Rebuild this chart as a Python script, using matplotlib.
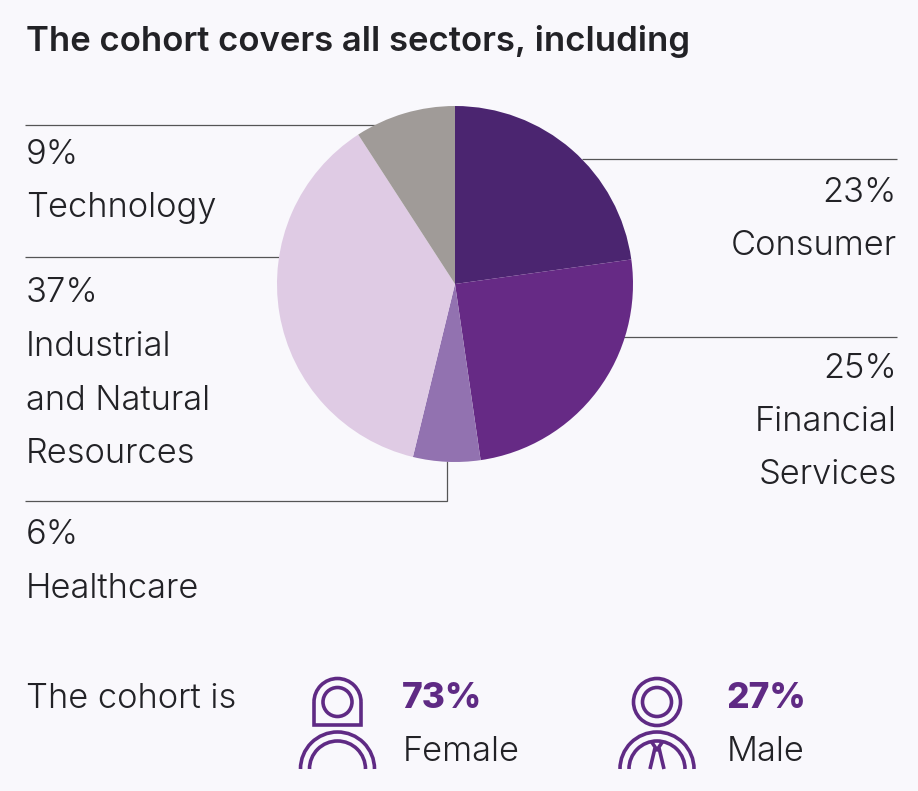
#!/usr/bin/env python3
import matplotlib
matplotlib.use("Agg")
import matplotlib.pyplot as plt
from matplotlib.patches import Arc, Circle

W, H = 918, 791
BG = "#f9f8fc"
PURPLE = "#5f2a84"
INK = "#222226"
RULE = "#555555"

# clockwise from 12 o'clock
sectors = ["Consumer", "Financial\nServices", "Healthcare", "Industrial\nand Natural\nResources", "Technology"]
shares = [23, 25, 6, 37, 9]
# slice sizes, the printed labels are rounded
slices = [22.8, 24.9, 6.1, 37.05, 9.15]
colors = ["#4b2570", "#662a85", "#9272b0", "#dfcbe4", "#a09b98"]
cohort_labels = ["Female", "Male"]
cohort_shares = [73, 27]

plt.rcParams["font.family"] = ["Inter", "Liberation Sans", "DejaVu Sans"]

fig = plt.figure(figsize=(W / 100, H / 100), dpi=100, facecolor=BG)

# overlay in pixel coords, y pointing down
ax = fig.add_axes([0, 0, 1, 1])
ax.set_xlim(0, W)
ax.set_ylim(H, 0)
ax.axis("off")

# pie gets its own axes
cx, cy, r = 455, 284, 178
pie_ax = fig.add_axes([(cx - r) / W, (H - cy - r) / H, 2 * r / W, 2 * r / H])
pie_ax.pie(slices, colors=colors, startangle=90, counterclock=False, radius=1,
           wedgeprops={"linewidth": 0})
pie_ax.set_xlim(-1, 1)
pie_ax.set_ylim(-1, 1)
pie_ax.set_aspect("auto")

ax.text(26, 41, "The cohort covers all sectors, including", fontsize=25, weight=600,
        color=INK, va="center", ha="left")

# leader lines
for xs, ys in [([25, 375], [125, 125]),
               ([25, 279], [257, 257]),
               ([25, 447, 447], [501, 501, 461]),
               ([582, 897], [159, 159]),
               ([622, 897], [337, 337])]:
    ax.plot(xs, ys, color=RULE, lw=0.9, solid_capstyle="butt", solid_joinstyle="miter")

FS = 24.8


def label(x, y, i, ha):
    lines = [f"{shares[i]}%"] + sectors[i].split("\n")
    for n, line in enumerate(lines):
        ax.text(x, y + n * 53.5, line, fontsize=FS, weight=300, color=INK, ha=ha, va="center")


label(26, 154.5, 4, "left")
label(26, 293.5, 3, "left")
label(26, 535.5, 2, "left")
label(897, 192.5, 0, "right")
label(897, 368.5, 1, "right")

ax.text(26, 698.5, "The cohort is", fontsize=FS, weight=300, color=INK, va="center")

# icons
ICON_LW = 2.6


def shoulders(x):
    for rad in (37, 28):
        ax.add_patch(Arc((x, 769), 2 * rad, 2 * rad, theta1=180, theta2=360,
                         color=PURPLE, lw=ICON_LW))


# female
fx = 337.5
ax.add_patch(Circle((fx, 702), 14.5, fill=False, ec=PURPLE, lw=ICON_LW))
ax.add_patch(Arc((fx, 702), 47, 47, theta1=180, theta2=360, color=PURPLE, lw=ICON_LW))
ax.plot([fx - 23.5, fx - 23.5, fx + 23.5, fx + 23.5], [702, 725, 725, 702], color=PURPLE,
        lw=ICON_LW, solid_joinstyle="miter", solid_capstyle="butt")
shoulders(fx)

# male
mx = 657
ax.add_patch(Circle((mx, 702), 14.5, fill=False, ec=PURPLE, lw=ICON_LW))
ax.add_patch(Circle((mx, 702), 23.5, fill=False, ec=PURPLE, lw=ICON_LW))
shoulders(mx)
ax.plot([mx - 6, mx, mx + 6], [741, 750, 741], color=PURPLE, lw=ICON_LW, solid_capstyle="butt")
ax.plot([mx - 2, mx - 7], [748, 769], color=PURPLE, lw=ICON_LW, solid_capstyle="butt")
ax.plot([mx + 2, mx + 7], [748, 769], color=PURPLE, lw=ICON_LW, solid_capstyle="butt")

for x, name, val in zip([402, 726], cohort_labels, cohort_shares):
    ax.text(x, 698, f"{val}%", fontsize=25.5, weight=800, color=PURPLE, va="center")
    ax.text(x + 1, 752, name, fontsize=FS, weight=300, color=INK, va="center")

fig.savefig("out.png", dpi=100, facecolor=BG)
